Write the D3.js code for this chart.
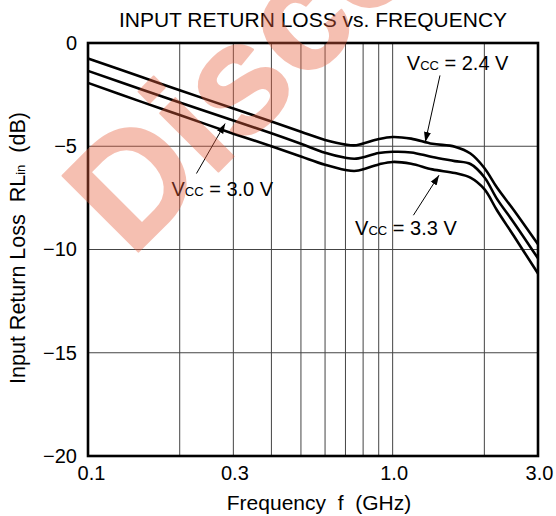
<!DOCTYPE html>
<html>
<head>
<meta charset="utf-8">
<script src="https://cdn.jsdelivr.net/npm/d3@7"></script>
<style>
  html, body { margin: 0; padding: 0; background: #fff; }
  svg { display: block; font-family: "Liberation Sans", Arial, Helvetica, sans-serif; }
  text { white-space: pre; }
</style>
</head>
<body>
<svg id="chart" width="556" height="516"></svg>
<script>
// ---- data ----
const freqs   = [0.1, 0.15, 0.2, 0.3, 0.4, 0.5, 0.6, 0.7, 0.76, 0.9, 1.0, 1.15, 1.35, 1.6, 1.8, 2.0, 2.2, 2.5, 3.0];
const rl24    = [-0.75, -1.65, -2.29, -3.17, -3.8, -4.3, -4.7, -4.92, -4.95, -4.65, -4.55, -4.63, -4.88, -5.02, -5.35, -6.05, -7.0, -8.1, -9.75];
const rl30    = [-1.35, -2.25, -2.88, -3.75, -4.37, -4.88, -5.32, -5.56, -5.6, -5.33, -5.27, -5.3, -5.52, -5.72, -5.86, -6.5, -7.55, -8.7, -10.43];
const rl33    = [-1.93, -2.85, -3.49, -4.39, -5.0, -5.5, -5.9, -6.15, -6.19, -5.88, -5.76, -5.85, -6.12, -6.3, -6.52, -7.08, -8.1, -9.35, -11.16];
const xTicks  = [0.1, 0.3, 1.0, 3.0];
const xTickLabels = ["0.1", "0.3", "1.0", "3.0"];
const yTicks  = [0, -5, -10, -15, -20];
const yTickLabels = ["0", "\u22125", "\u221210", "\u221215", "\u221220"];
const xGrid   = [0.2, 0.3, 0.4, 0.5, 0.6, 0.7, 0.8, 0.9, 1.0, 2.0];
const yGrid   = [-5, -10, -15];
// annotations: label anchor (f, dB), arrow tail (f, dB), arrow tip (f, dB)
const annLabels = ["= 2.4 V", "= 3.0 V", "= 3.3 V"];
const annText   = [[1.113, -1.29], [0.188, -7.41], [0.753, -9.3]];
const annTail   = [[1.43, -1.57], [0.227, -6.32], [1.17, -8.34]];
const annTip    = [[1.28, -4.79], [0.282, -3.9], [1.42, -6.4]];

const title  = "INPUT RETURN LOSS vs. FREQUENCY";
const xTitle = "Frequency  f  (GHz)";
const watermark = "Discontinued";

// ---- drawing ----
const svg = d3.select("#chart");
const x = d3.scaleLog().domain([0.1, 3.0]).range([88, 538]);
const y = d3.scaleLinear().domain([-20, 0]).range([456, 43]);

// grid
svg.append("g").selectAll("line").data(xGrid).join("line")
  .attr("x1", d => x(d)).attr("x2", d => x(d))
  .attr("y1", y(0)).attr("y2", y(-20))
  .attr("stroke", "#444").attr("stroke-width", 1);
svg.append("g").selectAll("line").data(yGrid).join("line")
  .attr("x1", x(0.1)).attr("x2", x(3.0))
  .attr("y1", d => y(d)).attr("y2", d => y(d))
  .attr("stroke", "#444").attr("stroke-width", 1);

// curves
const line = d3.line()
  .x((d, i) => x(freqs[i]))
  .y(d => y(d))
  .curve(d3.curveCatmullRom.alpha(0.5));
[rl24, rl30, rl33].forEach(s => {
  svg.append("path").datum(s).attr("d", line)
    .attr("fill", "none").attr("stroke", "#000").attr("stroke-width", 2.6)
    .attr("stroke-linejoin", "round");
});

// frame
svg.append("rect")
  .attr("x", x(0.1)).attr("y", y(0))
  .attr("width", x(3.0) - x(0.1)).attr("height", y(-20) - y(0))
  .attr("fill", "none").attr("stroke", "#000").attr("stroke-width", 2.6);

// axes
const yAxis = d3.axisLeft(y).tickValues(yTicks).tickSize(0).tickPadding(11)
  .tickFormat((d, i) => yTickLabels[i]);
const gy = svg.append("g").attr("transform", `translate(${x(0.1)},0)`).call(yAxis);
gy.select(".domain").remove();
gy.selectAll("text").attr("font-size", 20).attr("fill", "#000")
  .attr("font-family", "Liberation Sans, Arial, sans-serif");

const xAxis = d3.axisBottom(x).tickValues(xTicks).tickSize(0).tickPadding(10)
  .tickFormat((d, i) => xTickLabels[i]);
const gx = svg.append("g").attr("transform", `translate(0,${y(-20)})`).call(xAxis);
gx.select(".domain").remove();
gx.selectAll("text").attr("font-size", 20).attr("fill", "#000")
  .attr("font-family", "Liberation Sans, Arial, sans-serif")
  .attr("dx", (d, i) => i === 0 ? 3 : 1);

// titles
svg.append("text").attr("x", 313).attr("y", 27.3).attr("text-anchor", "middle")
  .attr("font-size", 21).text(title);
svg.append("text").attr("x", 319).attr("y", 510).attr("text-anchor", "middle")
  .attr("font-size", 21).text(xTitle);
const yt = svg.append("text").attr("transform", "translate(25,248) rotate(-90)")
  .attr("text-anchor", "middle").attr("font-size", 21.5);
yt.append("tspan").text("Input Return Loss  RL");
yt.append("tspan").attr("font-size", 13).text("in");
yt.append("tspan").text("  (dB)");

// annotations
svg.append("defs").append("marker")
  .attr("id", "ah").attr("viewBox", "0 0 10 10").attr("refX", 10).attr("refY", 5)
  .attr("markerWidth", 10).attr("markerHeight", 10).attr("markerUnits", "userSpaceOnUse")
  .attr("orient", "auto")
  .append("path").attr("d", "M0,1.5 L10,5 L0,8.5 Z").attr("fill", "#000");

annLabels.forEach((lab, i) => {
  svg.append("line")
    .attr("x1", x(annTail[i][0])).attr("y1", y(annTail[i][1]))
    .attr("x2", x(annTip[i][0])).attr("y2", y(annTip[i][1]))
    .attr("stroke", "#000").attr("stroke-width", 1).attr("marker-end", "url(#ah)");
  const t = svg.append("text").attr("x", x(annText[i][0])).attr("y", y(annText[i][1]))
    .attr("font-size", 20);
  t.append("tspan").text("V");
  t.append("tspan").attr("font-size", 13).text("CC");
  t.append("tspan").text(" " + lab);
});

// watermark
svg.append("g").attr("opacity", 0.4).attr("pointer-events", "none")
  .append("text")
  .attr("transform", "translate(131,259) rotate(-45)")
  .attr("font-size", 156).attr("font-weight", "bold")
  .attr("fill", "#e8603f").attr("stroke", "#e8603f")
  .attr("stroke-width", 2).attr("stroke-linejoin", "round")
  .text(watermark);
</script>
</body>
</html>
